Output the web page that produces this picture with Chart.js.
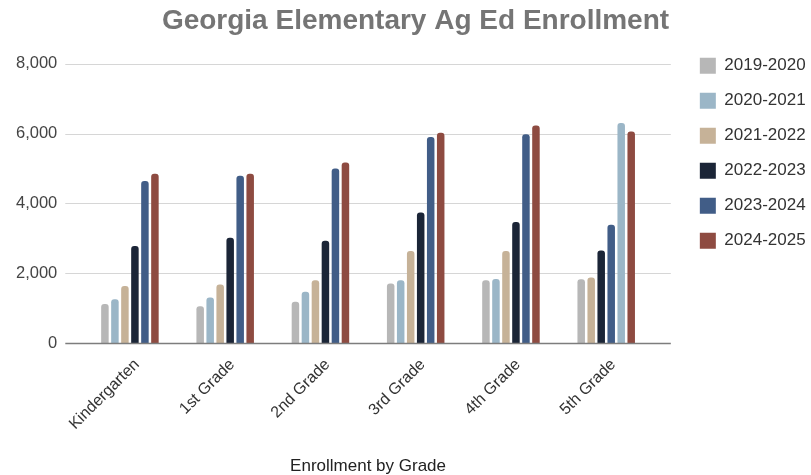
<!DOCTYPE html>
<html>
<head>
<meta charset="utf-8">
<script src="https://cdn.jsdelivr.net/npm/chart.js@4.4.1/dist/chart.umd.min.js"></script>
<style>
  html, body { margin: 0; padding: 0; background: #fff; }
</style>
</head>
<body>
<canvas id="enrollChart" width="811" height="475"></canvas>
<script>
// Data
const grades = ['Kindergarten', '1st Grade', '2nd Grade', '3rd Grade', '4th Grade', '5th Grade'];
const schoolYears = ['2019-2020', '2020-2021', '2021-2022', '2022-2023', '2023-2024', '2024-2025'];
const sy2019 = [1120, 1060, 1185, 1710, 1800, 1830];
const sy2020 = [1260, 1310, 1470, 1800, 1840, 1880];
const sy2021 = [1640, 1680, 1800, 2640, 2640, 2650];
const sy2022 = [2780, 3020, 2930, 3740, 3470, 3390];
const sy2023 = [4640, 4790, 5000, 5900, 5980, 6300];
const sy2024 = [4850, 4850, 5170, 6020, 6230, 6060];
const yTicks = [0, 2000, 4000, 6000, 8000];

const seriesColors = ['#b7b7b7', '#9bb6c7', '#c6b298', '#1b2537', '#415d87', '#8e4b41'];
// the 5th grade group in the reference uses a different colour order
const lastGroupColors = ['#b7b7b7', '#c6b298', '#1b2537', '#415d87', '#9bb6c7', '#8e4b41'];

const font = "'Liberation Sans', Arial, sans-serif";
const gridOverhang = 17;

const wideGrid = {
    id: 'wideGrid',
    beforeDatasetsDraw(chart) {
        const { ctx, chartArea, scales: { y } } = chart;
        ctx.save();
        ctx.lineWidth = 1;
        ctx.strokeStyle = '#d6d6d6';
        yTicks.slice(1).forEach(v => {
            const py = Math.round(y.getPixelForValue(v)) + 0.5;
            ctx.beginPath();
            ctx.moveTo(chartArea.left - gridOverhang, py);
            ctx.lineTo(chartArea.right + gridOverhang, py);
            ctx.stroke();
        });
        ctx.restore();
    },
    afterDatasetsDraw(chart) {
        const { ctx, chartArea, scales: { y } } = chart;
        const py = Math.round(y.getPixelForValue(0)) + 0.5;
        ctx.save();
        ctx.lineWidth = 1.5;
        ctx.strokeStyle = '#7d7d7d';
        ctx.beginPath();
        ctx.moveTo(chartArea.left - gridOverhang, py);
        ctx.lineTo(chartArea.right + gridOverhang, py);
        ctx.stroke();
        ctx.restore();
    }
};

const allSeries = [sy2019, sy2020, sy2021, sy2022, sy2023, sy2024];

const ctx = document.getElementById('enrollChart').getContext('2d');
new Chart(ctx, {
    type: 'bar',
    data: {
        labels: grades,
        datasets: allSeries.map((vals, i) => ({
            label: schoolYears[i],
            data: vals,
            backgroundColor: grades.map((g, j) => j === grades.length - 1 ? lastGroupColors[i] : seriesColors[i]),
            borderWidth: 0,
            borderRadius: { topLeft: 3, topRight: 3 },
            borderSkipped: 'bottom',
            categoryPercentage: 0.63,
            barPercentage: 0.75
        }))
    },
    options: {
        responsive: false,
        animation: false,
        layout: { padding: { left: 16, right: -4, top: 0, bottom: -2 } },
        plugins: {
            title: {
                display: true,
                text: 'Georgia Elementary Ag Ed Enrollment',
                color: '#757575',
                font: { family: font, size: 28, weight: 'bold' },
                padding: { top: 4, bottom: 26 }
            },
            legend: {
                position: 'right',
                align: 'start',
                title: {
                    display: true,
                    text: ' ',
                    font: { size: 1 },
                    padding: { top: 0, bottom: 38 }
                },
                labels: {
                    boxWidth: 16,
                    boxHeight: 16,
                    padding: 18,
                    color: '#333',
                    font: { family: font, size: 17 }
                }
            },
            tooltip: { enabled: false }
        },
        scales: {
            x: {
                grid: { display: false },
                border: { display: false },
                afterFit: axis => { axis.paddingLeft = 0; axis.paddingRight = 0; },
                ticks: {
                    color: '#333',
                    font: { family: font, size: 16 },
                    maxRotation: 45,
                    minRotation: 45,
                    padding: 4,
                    labelOffset: 7
                },
                title: {
                    display: true,
                    text: 'Enrollment by Grade',
                    color: '#222',
                    font: { family: font, size: 17 },
                    padding: { top: 19, bottom: 0 }
                }
            },
            y: {
                min: 0,
                max: 8000,
                afterBuildTicks: axis => { axis.ticks = yTicks.map(v => ({ value: v })); },
                afterFit: axis => { axis.width -= axis.options.ticks.padding; },
                grid: { display: false, drawTicks: false },
                border: { display: false },
                ticks: {
                    color: '#444',
                    font: { family: font, size: 16.5 },
                    padding: 25
                }
            },
            gap: {
                position: 'right',
                display: true,
                grid: { display: false },
                border: { display: false },
                ticks: { display: false },
                afterFit: axis => { axis.width = 28; }
            }
        }
    },
    plugins: [wideGrid]
});
</script>
</body>
</html>
